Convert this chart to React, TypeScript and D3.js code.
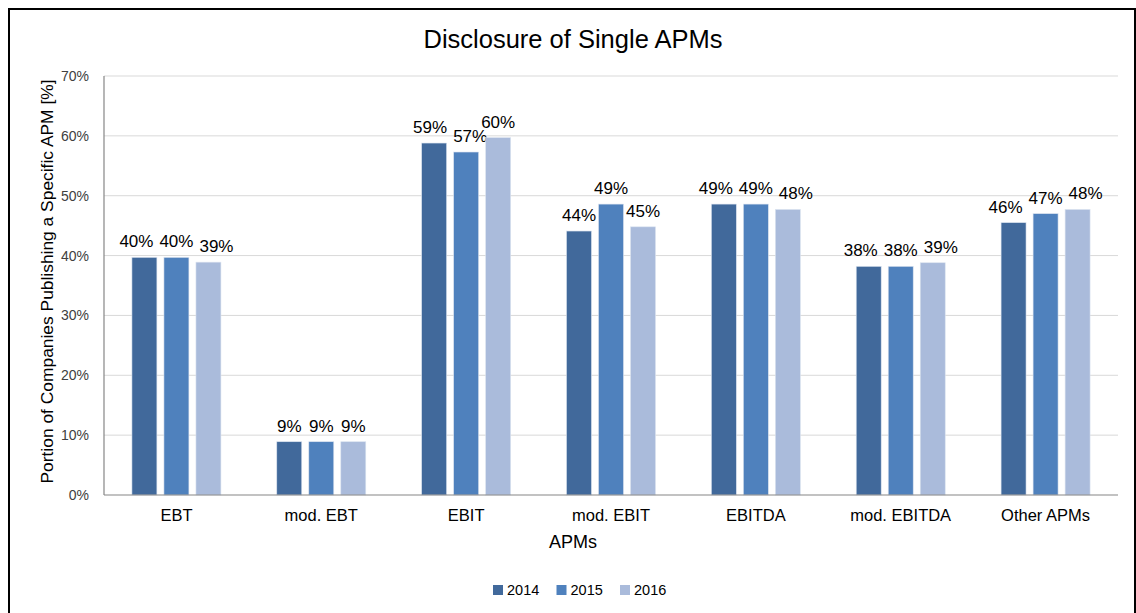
import React from "react";
import * as d3 from "d3";

const categories = ["EBT", "mod. EBT", "EBIT", "mod. EBIT", "EBITDA", "mod. EBITDA", "Other APMs"];
const seriesNames = ["2014", "2015", "2016"];
const values2014 = [39.7, 8.9, 58.8, 44.1, 48.6, 38.2, 45.5];
const values2015 = [39.7, 8.9, 57.3, 48.6, 48.6, 38.2, 47.0];
const values2016 = [38.9, 8.9, 59.7, 44.8, 47.7, 38.8, 47.7];
const labels2014 = ["40%", "9%", "59%", "44%", "49%", "38%", "46%"];
const labels2015 = ["40%", "9%", "57%", "49%", "49%", "38%", "47%"];
const labels2016 = ["39%", "9%", "60%", "45%", "48%", "39%", "48%"];
const yTicks = [0, 10, 20, 30, 40, 50, 60, 70];
const colors = ["#41699b", "#4f81bd", "#aabbdb"];

const FONT = "'Liberation Sans', Arial, sans-serif";
const LABEL_SIZE = 17;

function measure(text: string, size: number): number {
  if (typeof document === "undefined") return text.length * size * 0.6;
  const c = document.createElement("canvas").getContext("2d");
  if (!c) return text.length * size * 0.6;
  c.font = `${size}px ${FONT}`;
  return c.measureText(text).width;
}

export default function App() {
  const W = 1136, H = 613;
  const left = 104, right = 1118, top = 76, bottom = 495;
  const x = d3.scaleBand<string>().domain(categories).range([left, right]).paddingInner(0.3856).paddingOuter(0.1928);
  const xi = d3.scaleBand<string>().domain(seriesNames).range([0, x.bandwidth()]).paddingInner(0.22).paddingOuter(0);
  const y = d3.scaleLinear().domain([0, 70]).range([bottom, top]);
  const series = [values2014, values2015, values2016];
  const labels = [labels2014, labels2015, labels2016];

  // label placement with simple overlap avoidance per category (like Excel)
  const placed = categories.map((c, ci) => {
    const items = series.map((vals, si) => {
      const bx = (x(c) as number) + (xi(seriesNames[si]) as number);
      const by = y(vals[ci]);
      const text = labels[si][ci];
      return { bx, by, text, cx: bx + xi.bandwidth() / 2, cy: by - 16, w: measure(text, LABEL_SIZE) };
    });
    const gap = 6;
    for (let it = 0; it < 30; it++) {
      for (let i = 0; i < items.length - 1; i++) {
        const a = items[i], b = items[i + 1];
        if (Math.abs(a.cy - b.cy) >= 11) continue;
        const need = (a.w + b.w) / 2 + gap - (b.cx - a.cx);
        if (need > 0.01) {
          a.cx -= need / 2;
          b.cx += need / 2;
        }
      }
    }
    return items;
  });

  return (
    <svg width={W} height={H} style={{ position: "absolute", left: 0, top: 0, display: "block" }} fontFamily={FONT}>
      <rect x={0} y={0} width={W} height={H} fill="#fff" />
      <rect x={9} y={9} width={1126} height={640} fill="none" stroke="#000" strokeWidth={2} />
      <text x={573} y={48} textAnchor="middle" fontSize={25.5} fill="#000">Disclosure of Single APMs</text>
      {yTicks.map((t) => (
        <g key={t}>
          {t > 0 && <line x1={left} x2={right} y1={y(t)} y2={y(t)} stroke="#d9d9d9" strokeWidth={1} />}
          <text x={89} y={y(t) + 5} textAnchor="end" fontSize={14} fill="#404040">{t}%</text>
        </g>
      ))}
      <line x1={left} x2={left} y1={top} y2={bottom} stroke="#868686" strokeWidth={1.2} />
      {categories.map((c, ci) => (
        <g key={c}>
          {placed[ci].map((p, si) => (
            <g key={si}>
              <rect x={p.bx} y={p.by} width={xi.bandwidth()} height={bottom - p.by} fill={colors[si]} stroke="#dbe3ef" strokeWidth={0.6} />
              <text x={p.cx} y={p.cy + 6} textAnchor="middle" fontSize={LABEL_SIZE} fill="#000">{p.text}</text>
            </g>
          ))}
          <text x={(x(c) as number) + x.bandwidth() / 2} y={521} textAnchor="middle" fontSize={16.5} fill="#000">{c}</text>
        </g>
      ))}
      <line x1={left} x2={right} y1={bottom} y2={bottom} stroke="#868686" strokeWidth={1.2} />
      <text x={573} y={548} textAnchor="middle" fontSize={18} fill="#000">APMs</text>
      <text transform={`translate(53, 281.5) rotate(-90)`} textAnchor="middle" fontSize={17.4} fill="#000">
        Portion of Companies Publishing a Specific APM [%]
      </text>
      {seriesNames.map((s, i) => (
        <g key={s} transform={`translate(${493 + i * 63.5}, 585)`}>
          <rect x={0} y={0} width={10} height={10} fill={colors[i]} />
          <text x={14} y={10} fontSize={14.5} fill="#000">{s}</text>
        </g>
      ))}
    </svg>
  );
}
